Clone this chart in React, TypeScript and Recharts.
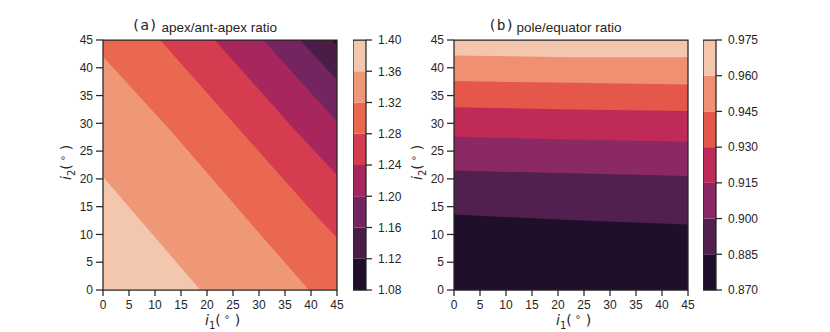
import React from 'react';
import { ComposedChart, Area, XAxis, YAxis, ReferenceArea } from 'recharts';

// ---------- shared ----------
const AXIS_TICKS = [0, 5, 10, 15, 20, 25, 30, 35, 40, 45];
const Y_TOP = 45;
const INK = '#262626';
const TICK_FONT = 'Liberation Sans, Arial, sans-serif';

// ---------- panel (a): apex/ant-apex ratio ----------
const A_LEVELS = [1.08, 1.12, 1.16, 1.2, 1.24, 1.28, 1.32, 1.36, 1.4];
// band colours, lowest band first
const A_COLORS = ['#1f0f2a', '#4a1d47', '#74245f', '#a8265e', '#d63c4f', '#e9684f', '#ef9878', '#f3c7ae'];
// contour boundaries (lower edge of each band; area above it is filled)
const A_BASE = [{ x: 0, y: 0 }, { x: 45, y: 0 }];
const A_B136 = [{ x: 0, y: 20.4 }, { x: 18.7, y: 0 }, { x: 45, y: 0 }];
const A_B132 = [{ x: 0, y: 42 }, { x: 12.9, y: 28.8 }, { x: 29.5, y: 10.8 }, { x: 39.6, y: 0 }, { x: 45, y: 0 }];
const A_B128 = [{ x: 11, y: 45 }, { x: 26.3, y: 28.8 }, { x: 41.7, y: 12.6 }, { x: 45, y: 9.4 }];
const A_B124 = [{ x: 21.5, y: 45 }, { x: 36.9, y: 28.8 }, { x: 45, y: 20.7 }];
const A_B120 = [{ x: 30.8, y: 45 }, { x: 45, y: 30.3 }];
const A_B116 = [{ x: 37.9, y: 45 }, { x: 45, y: 37.8 }];
const A_B112 = [{ x: 44, y: 45 }, { x: 45, y: 44.1 }];
// painted in order: first array gets highest band colour
const A_LAYERS = [
  { pts: A_BASE, band: 7 },
  { pts: A_B136, band: 6 },
  { pts: A_B132, band: 5 },
  { pts: A_B128, band: 4 },
  { pts: A_B124, band: 3 },
  { pts: A_B120, band: 2 },
  { pts: A_B116, band: 1 },
  { pts: A_B112, band: 0 },
];

// ---------- panel (b): pole/equator ratio ----------
const B_LEVELS = [0.87, 0.885, 0.9, 0.915, 0.93, 0.945, 0.96, 0.975];
const B_COLORS = ['#200f2a', '#52204f', '#8a2963', '#c02a57', '#e4574a', '#ef9072', '#f3c6ad'];
const B_BASE = [{ x: 0, y: 0 }, { x: 45, y: 0 }];
const B_B885 = [{ x: 0, y: 13.6 }, { x: 22.3, y: 12.6 }, { x: 45, y: 11.8 }];
const B_B900 = [{ x: 0, y: 21.5 }, { x: 22.5, y: 21.0 }, { x: 45, y: 20.5 }];
const B_B915 = [{ x: 0, y: 27.6 }, { x: 22.5, y: 27.1 }, { x: 45, y: 26.7 }];
const B_B930 = [{ x: 0, y: 32.9 }, { x: 22.5, y: 32.5 }, { x: 45, y: 32.2 }];
const B_B945 = [{ x: 0, y: 37.6 }, { x: 22.5, y: 37.3 }, { x: 45, y: 37.0 }];
const B_B960 = [{ x: 0, y: 42.2 }, { x: 22.5, y: 41.9 }, { x: 45, y: 41.9 }];
const B_LAYERS = [
  { pts: B_BASE, band: 0 },
  { pts: B_B885, band: 1 },
  { pts: B_B900, band: 2 },
  { pts: B_B915, band: 3 },
  { pts: B_B930, band: 4 },
  { pts: B_B945, band: 5 },
  { pts: B_B960, band: 6 },
];

const tickStyle = { fill: INK, fontSize: 12, fontFamily: TICK_FONT };
const tickLineStyle = { stroke: INK, strokeWidth: 1.25 };

function ContourPanel({ layers, colors }: { layers: { pts: { x: number; y: number }[]; band: number }[]; colors: string[] }) {
  return (
    <ComposedChart width={345} height={332} margin={{ top: 40, right: 8, bottom: 0, left: 0 }}>
      <XAxis
        type="number"
        dataKey="x"
        domain={[0, 45]}
        ticks={AXIS_TICKS}
        allowDataOverflow
        height={42}
        axisLine={false}
        tickLine={tickLineStyle}
        tickSize={6}
        tickMargin={4}
        tick={tickStyle}
        interval={0}
      />
      <YAxis
        type="number"
        domain={[0, 45]}
        ticks={AXIS_TICKS}
        allowDataOverflow
        width={103}
        axisLine={false}
        tickLine={tickLineStyle}
        tickSize={7}
        tickMargin={3}
        tick={tickStyle}
        interval={0}
      />
      {layers.map((l, i) => (
        <Area
          key={i}
          data={l.pts}
          dataKey={(d: { y: number }) => [d.y, Y_TOP]}
          type="linear"
          stroke="none"
          fill={colors[l.band]}
          fillOpacity={1}
          dot={false}
          activeDot={false}
          isAnimationActive={false}
        />
      ))}
      <ReferenceArea x1={0} x2={45} y1={0} y2={45} fill="none" stroke={INK} strokeWidth={1.25} ifOverflow="visible" />
    </ComposedChart>
  );
}

function ColorBar({ levels, colors, digits }: { levels: number[]; colors: string[]; digits: number }) {
  const rows = colors.map((c, i) => ({ lo: levels[i], hi: levels[i + 1] }));
  const lo = levels[0];
  const hi = levels[levels.length - 1];
  return (
    <ComposedChart width={75} height={332} margin={{ top: 40, right: 0, bottom: 42, left: 0 }} data={rows}>
      <XAxis type="number" domain={[0, 1]} hide />
      <YAxis
        orientation="right"
        type="number"
        domain={[lo, hi]}
        ticks={levels}
        allowDataOverflow
        width={62}
        axisLine={false}
        tickLine={tickLineStyle}
        tickSize={6}
        tickMargin={6}
        tick={tickStyle}
        interval={0}
        tickFormatter={(v: number) => v.toFixed(digits)}
      />
      {rows.map((r, i) => (
        <ReferenceArea key={i} y1={r.lo} y2={r.hi} fill={colors[i]} fillOpacity={1} stroke="none" />
      ))}
      <ReferenceArea y1={lo} y2={hi} fill="none" stroke={INK} strokeWidth={1.25} ifOverflow="visible" />
    </ComposedChart>
  );
}

function AxisLabel({ sub }: { sub: string }) {
  return (
    <>
      <tspan fontStyle="italic">i</tspan>
      <tspan fontSize={10} dy={3.5}>{sub}</tspan>
      <tspan dy={-3.5}>(</tspan>
      <tspan fontSize={10} dy={-5.5}> ∘</tspan>
      <tspan dy={5.5}> )</tspan>
    </>
  );
}

export default function App() {
  const abs = (left: number): React.CSSProperties => ({ position: 'absolute', left, top: 0 });
  return (
    <div style={{ position: 'absolute', left: 0, top: 0, width: 830, height: 332, background: '#fff', overflow: 'hidden' }}>
      <div style={abs(0)}>
        <ContourPanel layers={A_LAYERS} colors={A_COLORS} />
      </div>
      <div style={abs(352.5)}>
        <ColorBar levels={A_LEVELS} colors={A_COLORS} digits={2} />
      </div>
      <div style={abs(351)}>
        <ContourPanel layers={B_LAYERS} colors={B_COLORS} />
      </div>
      <div style={abs(702.5)}>
        <ColorBar levels={B_LEVELS} colors={B_COLORS} digits={3} />
      </div>
      <svg width={830} height={332} style={{ position: 'absolute', left: 0, top: 0, pointerEvents: 'none' }}>
        <text x={131.5} y={29.5} fontFamily="DejaVu Sans Mono" fontSize={14.5} fill={INK}>(a)</text>
        <text x={161.5} y={32} fontFamily={TICK_FONT} fontSize={13.5} fill={INK}>apex/ant-apex ratio</text>
        <text x={488} y={29.5} fontFamily="DejaVu Sans Mono" fontSize={14.5} fill={INK}>(b)</text>
        <text x={516.5} y={32} fontFamily={TICK_FONT} fontSize={13.5} fill={INK}>pole/equator ratio</text>

        <text x={205} y={325} fontFamily="DejaVu Sans" fontSize={14} fill={INK}><AxisLabel sub="1" /></text>
        <text x={556} y={325} fontFamily="DejaVu Sans" fontSize={14} fill={INK}><AxisLabel sub="1" /></text>
        <text transform="translate(71,180) rotate(-90)" fontFamily="DejaVu Sans" fontSize={14} fill={INK}><AxisLabel sub="2" /></text>
        <text transform="translate(422,180) rotate(-90)" fontFamily="DejaVu Sans" fontSize={14} fill={INK}><AxisLabel sub="2" /></text>
      </svg>
    </div>
  );
}
